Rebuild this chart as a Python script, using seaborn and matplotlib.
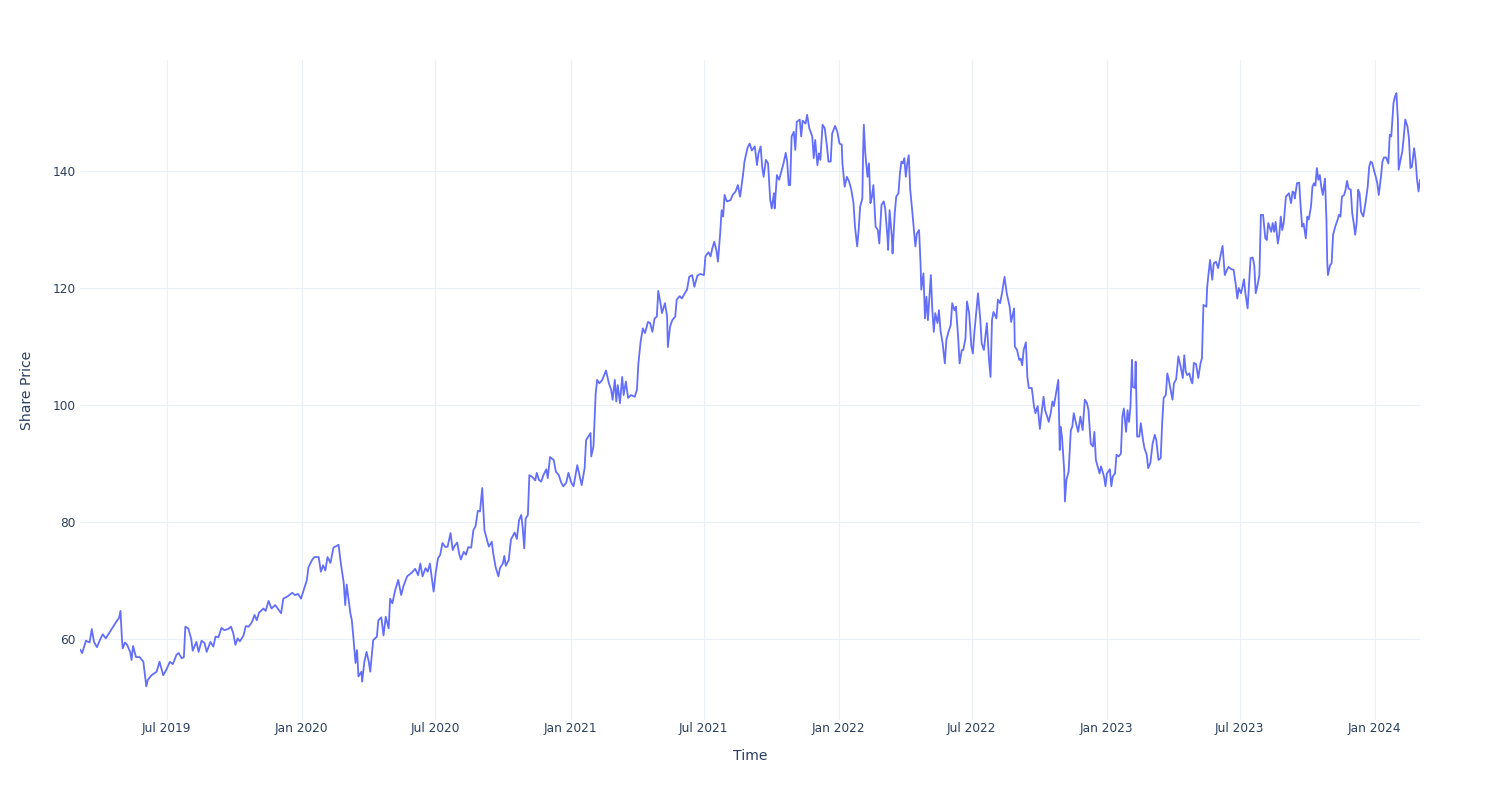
import matplotlib
matplotlib.use("Agg")
import matplotlib.pyplot as plt
import matplotlib.dates as mdates
from matplotlib.ticker import MultipleLocator
import numpy as np
import pandas as pd
import seaborn as sns

# ---------------- data ----------------
start_date = "2019-03-05"
# calibration of the day offsets below (read from pixel positions) to calendar days
day_scale = 1.003

# days since start_date, grouped by stretch of the chart
days_2019a = [0, 3, 8, 13, 16, 19, 23, 28, 31, 35, 42, 49, 53, 55, 57, 58, 61, 64, 68, 70,
              72, 76, 81, 86, 90, 92, 97, 104, 108, 113, 117, 122, 126, 131, 134, 138, 141,
              143, 147, 151, 153, 158, 161]
price_2019a = [58.2, 57.6, 59.7, 59.4, 61.7, 59.5, 58.6, 60.1, 60.8, 60.1, 61.5, 62.9, 63.6,
               64.8, 59.8, 58.4, 59.4, 59.0, 57.8, 56.4, 58.8, 56.9, 56.9, 56.1, 51.9, 53.0,
               53.8, 54.4, 56.1, 53.8, 54.7, 56.1, 55.7, 57.3, 57.6, 56.7, 56.9, 62.1, 61.8,
               60.0, 58.0, 59.5, 57.8]

days_2019b = [165, 169, 172, 177, 181, 184, 188, 192, 196, 201, 205, 208, 211, 214, 217, 222,
              225, 229, 233, 237, 240, 243, 249, 252, 256, 260, 265, 269, 273, 276, 282, 288,
              292, 296, 300, 303, 308]
price_2019b = [59.7, 59.3, 57.8, 59.5, 58.7, 60.4, 60.3, 61.9, 61.5, 61.7, 62.1, 61.0, 59.0,
               60.1, 59.6, 60.6, 62.2, 62.1, 62.8, 64.1, 63.2, 64.5, 65.2, 64.8, 66.5, 65.2,
               65.8, 65.1, 64.4, 66.9, 67.3, 67.9, 67.5, 67.7, 66.9, 68.1, 70.1]

days_2020a = [310, 315, 318, 324, 327, 330, 333, 336, 340, 344, 351, 354, 358, 360, 362, 364,
              367, 369, 371, 374, 376, 378, 382, 383, 386, 389, 392, 394, 398, 403, 405, 409,
              412, 415, 419, 421, 424, 428, 432, 436, 439, 444, 450, 455]
price_2020a = [72.2, 73.5, 74.0, 74.0, 71.5, 72.6, 71.7, 74.0, 73.0, 75.6, 76.1, 73.0, 69.6,
               65.8, 69.3, 67.3, 64.4, 63.2, 60.4, 55.9, 58.1, 53.6, 54.4, 52.7, 56.1, 57.8,
               56.1, 54.4, 59.8, 60.4, 63.2, 63.7, 60.6, 63.8, 61.8, 66.9, 66.1, 68.4, 70.1,
               67.5, 69.0, 70.7, 71.3, 72.0]

days_2020b = [459, 462, 465, 469, 472, 475, 478, 480, 483, 486, 489, 492, 496, 499, 503, 506,
              508, 512, 515, 517, 521, 524, 527, 531, 534, 537, 540, 543, 546, 549, 552, 555,
              559, 561, 564, 566, 568, 570, 574, 576, 578, 582, 585, 590, 593, 596, 599, 601,
              603, 605, 608, 610]
price_2020b = [70.9, 72.9, 70.7, 72.1, 71.5, 72.9, 70.1, 68.1, 71.5, 73.8, 74.4, 76.4, 75.7,
               75.8, 78.1, 75.2, 75.8, 76.5, 74.4, 73.6, 74.9, 74.4, 75.7, 75.6, 78.6, 79.3,
               81.9, 81.8, 85.8, 78.6, 77.2, 75.8, 76.6, 74.6, 72.4, 71.5, 70.7, 72.1, 72.9,
               74.2, 72.5, 73.5, 77.0, 78.2, 77.1, 80.3, 81.2, 78.9, 75.5, 80.6, 81.2, 88.0]

days_2021a = [614, 618, 620, 623, 626, 629, 633, 635, 638, 643, 646, 650, 653, 656, 660, 663,
              667, 670, 675, 678, 681, 685, 687, 690, 693, 694, 697, 700, 702, 705, 709, 714,
              718, 721, 723, 726, 728, 730, 733, 736, 738, 741, 744, 748, 753, 756, 758, 761]
price_2021a = [87.7, 87.1, 88.4, 87.2, 86.9, 88.0, 89.0, 87.5, 91.1, 90.6, 88.6, 88.0, 86.8,
               86.1, 86.7, 88.4, 86.7, 86.1, 89.7, 88.0, 86.3, 89.2, 94.0, 94.6, 95.2, 91.2,
               92.9, 101.9, 104.3, 103.7, 104.3, 105.9, 103.7, 102.6, 100.9, 104.3, 100.6,
               103.4, 100.3, 104.8, 101.7, 104.0, 101.2, 101.7, 101.4, 102.6, 107.1, 110.8]

days_2021b = [764, 767, 771, 774, 777, 780, 783, 785, 788, 790, 794, 797, 798, 801, 804, 808,
              810, 814, 817, 821, 824, 827, 831, 834, 838, 842, 847, 849, 853, 856, 858, 861,
              864, 866, 869, 871, 873, 875, 878, 883, 886, 890, 893, 896, 900, 902, 906, 909]
price_2021b = [113.1, 112.3, 114.2, 114.0, 112.5, 114.8, 115.1, 119.5, 117.4, 115.7, 117.4,
               115.1, 109.9, 113.4, 114.5, 115.1, 118.0, 118.6, 118.2, 119.1, 119.7, 121.9,
               122.2, 120.2, 122.1, 122.4, 122.2, 125.4, 126.1, 125.4, 126.6, 127.9, 126.4,
               124.5, 129.3, 133.3, 132.2, 135.9, 134.8, 135.0, 135.9, 136.5, 137.6, 135.6,
               139.3, 141.6, 143.9, 144.7]

days_2021c = [912, 916, 919, 921, 924, 926, 928, 931, 934, 937, 939, 942, 943, 946, 949, 952,
              955, 958, 960, 962, 964, 966, 969, 971, 973, 977, 979, 981, 985, 987, 990, 994,
              996, 998, 1001, 1003, 1005, 1008, 1011, 1014, 1016, 1019, 1021, 1025, 1028,
              1031, 1034, 1035, 1038, 1041, 1044, 1047, 1050]
price_2021c = [143.5, 144.2, 141.0, 143.0, 144.2, 140.7, 139.0, 141.9, 141.3, 135.0, 133.6,
               136.2, 133.6, 139.3, 138.5, 139.9, 141.3, 143.1, 141.6, 137.6, 137.6, 145.9,
               146.7, 143.6, 148.4, 148.8, 145.9, 148.6, 148.1, 149.6, 147.3, 145.9, 142.2,
               145.3, 141.0, 143.0, 141.9, 147.9, 147.3, 144.2, 141.6, 141.6, 146.4, 147.7,
               146.7, 144.7, 144.5, 141.3, 137.3, 139.0, 138.2, 136.8, 134.5]

days_2022a = [1052, 1055, 1057, 1059, 1062, 1063, 1064, 1066, 1069, 1071, 1073, 1075, 1077,
              1080, 1083, 1085, 1088, 1091, 1093, 1096, 1097, 1099, 1102, 1103, 1106, 1108,
              1111, 1113, 1115, 1117, 1119, 1121, 1123, 1125, 1127, 1130, 1132, 1134, 1136,
              1139, 1141, 1142, 1145, 1147, 1149, 1151, 1155, 1157, 1159, 1161, 1164, 1166,
              1168, 1171, 1174, 1176, 1179, 1182, 1184, 1187, 1189, 1192, 1194, 1197, 1199,
              1202]
price_2022a = [130.5, 127.1, 129.9, 133.9, 135.3, 143.0, 147.9, 143.0, 139.0, 141.3, 134.5,
               135.6, 137.6, 130.5, 129.9, 127.6, 134.2, 134.8, 133.6, 128.8, 126.5, 133.3,
               128.8, 125.9, 132.8, 135.6, 136.2, 139.6, 141.6, 141.3, 142.2, 139.0, 141.3,
               142.7, 136.8, 132.8, 129.9, 127.1, 129.3, 129.9, 124.2, 119.7, 122.5, 114.8,
               118.5, 114.5, 122.2, 116.2, 112.5, 115.7, 114.0, 116.2, 112.8, 110.5, 107.1,
               111.1, 112.5, 113.7, 117.4, 116.2, 116.8, 111.7, 107.1, 109.4, 109.4, 111.4]

days_2022b = [1204, 1207, 1210, 1212, 1214, 1219, 1222, 1224, 1227, 1229, 1231, 1234, 1236,
              1238, 1240, 1244, 1246, 1249, 1252, 1255, 1258, 1262, 1264, 1268, 1269, 1272,
              1275, 1277, 1279, 1281, 1284, 1286, 1288, 1292, 1295, 1297, 1300, 1303, 1305,
              1308, 1310, 1313, 1315, 1318, 1320, 1322, 1325, 1328, 1330, 1331, 1333, 1336,
              1337, 1339, 1342, 1345, 1347, 1349, 1352, 1355, 1358]
price_2022b = [117.7, 115.7, 110.0, 108.8, 112.3, 119.1, 114.8, 110.5, 109.4, 111.7, 114.0,
               107.7, 104.8, 114.5, 115.9, 114.8, 118.0, 117.4, 119.4, 121.9, 119.1, 116.8,
               114.2, 116.5, 110.0, 109.4, 107.7, 107.9, 106.8, 109.4, 110.7, 104.8, 102.9,
               102.9, 99.8, 98.6, 99.8, 95.9, 98.3, 101.4, 99.1, 98.0, 97.1, 98.8, 100.6, 99.8,
               102.0, 104.3, 92.3, 96.3, 94.6, 88.9, 83.5, 87.2, 88.6, 95.7, 96.3, 98.6, 96.9,
               95.4, 98.0]

days_2023a = [1361, 1364, 1367, 1369, 1372, 1375, 1377, 1379, 1382, 1384, 1386, 1390, 1392,
              1394, 1398, 1400, 1402, 1405, 1407, 1410, 1413, 1415, 1417, 1420, 1422, 1424,
              1426, 1428, 1429, 1432, 1433, 1435, 1438, 1440, 1443, 1445, 1448, 1450, 1453,
              1456, 1459, 1461, 1464, 1467, 1469, 1471, 1474, 1476, 1478, 1481, 1483, 1485,
              1488, 1491, 1494, 1497, 1499, 1501]
price_2023a = [95.7, 100.9, 100.3, 99.1, 93.4, 92.9, 95.4, 90.6, 89.2, 88.3, 89.5, 87.8, 86.1,
               88.3, 89.0, 86.1, 87.8, 88.3, 91.5, 91.2, 91.7, 98.0, 99.4, 95.4, 99.1, 97.1,
               99.8, 107.7, 103.1, 102.9, 107.4, 94.6, 94.6, 96.9, 94.0, 92.6, 91.5, 89.2, 90.1,
               93.4, 94.9, 94.0, 90.6, 90.9, 96.9, 101.2, 101.7, 105.4, 104.3, 102.3, 100.9,
               103.7, 104.4, 108.3, 106.6, 104.6, 108.5, 105.7]

days_2023b = [1503, 1506, 1508, 1510, 1512, 1515, 1518, 1521, 1523, 1525, 1529, 1530, 1532,
              1534, 1537, 1539, 1542, 1545, 1548, 1551, 1554, 1557, 1559, 1563, 1566, 1569,
              1571, 1573, 1576, 1578, 1580, 1582, 1585, 1587, 1589, 1592, 1594, 1596, 1598,
              1601, 1603, 1606, 1609, 1611, 1613, 1617, 1619, 1621, 1623, 1626, 1628, 1630,
              1632, 1634, 1637, 1639, 1641, 1644, 1646, 1648, 1649, 1652, 1655]
price_2023b = [105.1, 105.4, 104.3, 103.7, 107.2, 107.0, 104.6, 107.1, 108.0, 117.1, 116.8,
               120.0, 122.5, 124.8, 121.4, 124.2, 124.5, 123.4, 125.4, 127.2, 122.2, 123.1,
               123.6, 123.2, 123.1, 120.5, 118.2, 120.0, 119.1, 120.2, 121.5, 119.1, 116.5,
               120.8, 125.1, 125.2, 123.9, 119.1, 120.2, 122.2, 132.5, 132.5, 128.5, 128.2,
               131.1, 129.6, 131.1, 129.6, 131.3, 127.6, 129.1, 132.2, 129.9, 131.1, 135.6,
               135.9, 136.2, 134.5, 136.5, 136.3, 135.3, 137.9, 138.0]

days_2024 = [1657, 1659, 1661, 1664, 1666, 1668, 1671, 1673, 1675, 1677, 1679, 1681, 1683,
             1685, 1687, 1690, 1692, 1693, 1694, 1697, 1699, 1701, 1704, 1707, 1709, 1711,
             1713, 1716, 1718, 1720, 1722, 1725, 1727, 1729, 1731, 1733, 1735, 1737, 1739,
             1742, 1745, 1748, 1750, 1752, 1754, 1757, 1759, 1761, 1763, 1766, 1768, 1770,
             1773, 1776, 1778, 1780, 1783, 1785, 1787, 1789, 1790, 1793, 1795, 1797, 1799,
             1802, 1804, 1806, 1808, 1811, 1813, 1815, 1817, 1819]
price_2024 = [133.9, 130.5, 131.0, 128.5, 132.2, 131.7, 133.9, 137.3, 137.9, 137.5, 140.5,
              138.5, 139.3, 137.3, 135.9, 138.7, 131.6, 124.8, 122.2, 123.9, 124.2, 129.1,
              130.5, 131.6, 132.5, 132.2, 135.6, 135.9, 136.8, 138.3, 137.0, 136.8, 132.8,
              131.1, 129.1, 131.1, 136.8, 136.2, 133.0, 132.2, 134.5, 137.3, 140.7, 141.6,
              141.4, 139.9, 139.0, 137.9, 135.9, 139.0, 141.6, 142.3, 142.3, 141.3, 146.2,
              145.9, 151.6, 152.7, 153.3, 148.7, 140.2, 142.2, 143.3, 145.9, 148.8, 147.6,
              145.6, 140.5, 140.7, 143.9, 141.9, 138.5, 136.5, 138.5]

day_groups = [days_2019a, days_2019b, days_2020a, days_2020b, days_2021a, days_2021b,
              days_2021c, days_2022a, days_2022b, days_2023a, days_2023b, days_2024]
price_groups = [price_2019a, price_2019b, price_2020a, price_2020b, price_2021a, price_2021b,
                price_2021c, price_2022a, price_2022b, price_2023a, price_2023b, price_2024]

x_title = "Time"
y_title = "Share Price"

# ---------------- build frame ----------------
for d, p in zip(day_groups, price_groups):
    assert len(d) == len(p), (len(d), len(p))
all_days = np.concatenate(day_groups).astype(float) * day_scale
all_prices = np.concatenate(price_groups)
dates = pd.to_datetime(start_date) + pd.to_timedelta(all_days, unit="D")
df = pd.DataFrame({"Time": dates, "Share Price": all_prices})

# ---------------- style ----------------
sns.set_theme(style="white")
plt.rcParams["font.family"] = ["DejaVu Sans"]
text_color = "#2a3f5f"
grid_color = "#EBF0F8"

fig = plt.figure(figsize=(15, 8), dpi=100)
fig.patch.set_facecolor("white")
# plot area: x 80..1420 px, y 60..720 px
ax = fig.add_axes([80 / 1500, 80 / 800, 1340 / 1500, 660 / 800])
ax.set_facecolor("white")

sns.lineplot(data=df, x="Time", y="Share Price", ax=ax, color="#636EFA",
             linewidth=1.3, estimator=None, sort=True)

ax.set_xlim(df["Time"].min(), df["Time"].max())
ax.set_ylim(46.15, 158.97)
ax.yaxis.set_major_locator(MultipleLocator(20))
ax.xaxis.set_major_locator(mdates.MonthLocator(bymonth=[1, 7]))
ax.xaxis.set_major_formatter(mdates.DateFormatter("%b %Y"))

ax.grid(True, color=grid_color, linewidth=0.8)
ax.set_axisbelow(True)
for s in ax.spines.values():
    s.set_visible(False)
ax.tick_params(axis="both", length=0, labelsize=8.7, colors=text_color)
ax.tick_params(axis="x", pad=1.5)
ax.tick_params(axis="y", pad=3)

ax.set_xlabel(x_title, fontsize=10.1, color=text_color)
ax.set_ylabel(y_title, fontsize=10.1, color=text_color)
ax.xaxis.label.set_va("center")
ax.xaxis.set_label_coords(0.5, -(756 - 720) / 660)
ax.yaxis.label.set_va("center")
ax.yaxis.label.set_ha("center")
ax.yaxis.set_label_coords(-(80 - 27) / 1340, 0.5)

fig.savefig("out.png", dpi=100, facecolor="white")
